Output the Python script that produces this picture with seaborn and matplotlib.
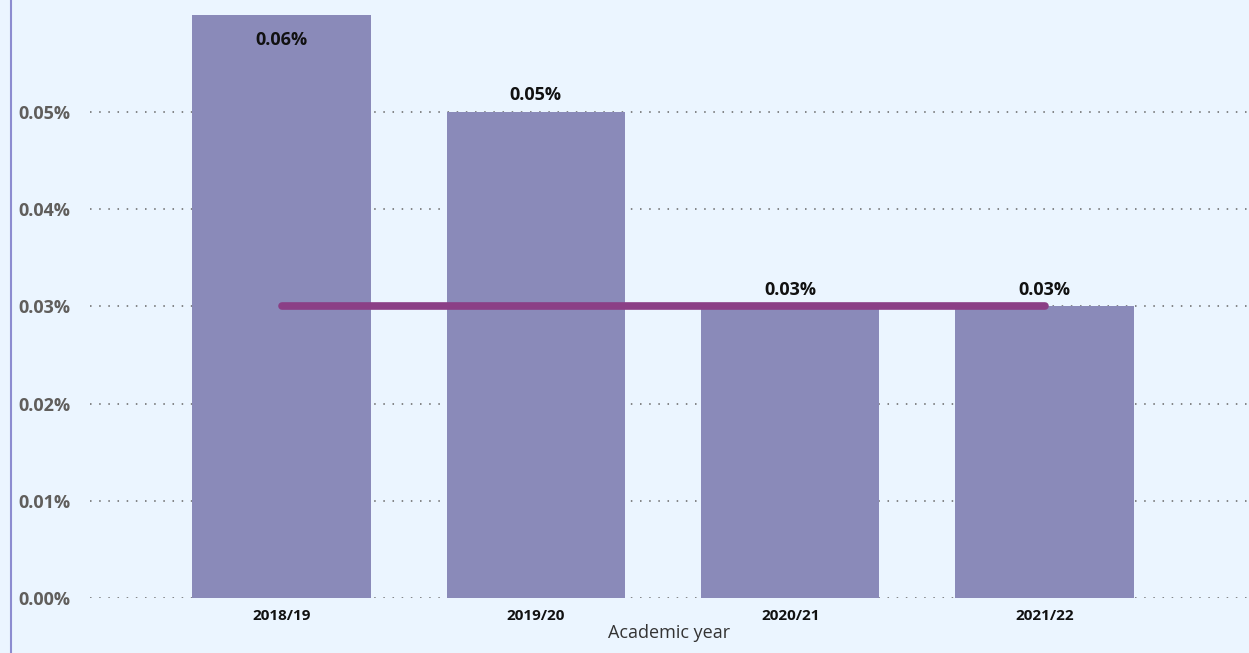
import matplotlib
matplotlib.use("Agg")
import matplotlib.pyplot as plt
import matplotlib.lines as mlines
import seaborn as sns
import pandas as pd

# Academic years and rates (percent)
years = ["2018/19", "2019/20", "2020/21", "2021/22"]
rates = [0.06, 0.05, 0.03, 0.03]
benchmark = [0.03, 0.03, 0.03, 0.03]
y_ticks = [0.00, 0.01, 0.02, 0.03, 0.04, 0.05]

bg = "#EBF5FF"
bar_color = "#8A8AB9"
line_color = "#8B3F86"

sns.set_theme(style="white")
plt.rcParams["font.family"] = ["Open Sans", "DejaVu Sans"]

df = pd.DataFrame({"year": years, "rate": rates})

fig = plt.figure(figsize=(12.49, 6.53), dpi=100, facecolor=bg)
ax = fig.add_axes([90 / 1249, 55 / 653, 1 - 90 / 1249, 598 / 653])
ax.set_facecolor(bg)

sns.barplot(data=df, x="year", y="rate", color=bar_color, width=0.7,
            saturation=1, linewidth=0, edgecolor="none", ax=ax, zorder=2)

ax.plot(range(len(years)), benchmark, color=line_color, lw=5.5,
        solid_capstyle="round", zorder=3)

ax.set_ylim(0, 0.0615)
ax.set_xlim(-0.753, 3.804)
ax.set_yticks(y_ticks)
ax.set_yticklabels([f"{v:.2f}%" for v in y_ticks], color="#605E5C",
                   fontsize=13, fontweight="bold")
ax.yaxis.grid(True, linestyle=(0, (1, 5)), color="#666666", lw=1.1, zorder=0)
ax.set_axisbelow(True)
ax.tick_params(axis="y", length=0, pad=14)
ax.tick_params(axis="x", length=0, pad=8)
for lbl in ax.get_xticklabels():
    lbl.set_fontweight("bold")
    lbl.set_fontsize(11)
    lbl.set_color("#111111")
ax.set_xlabel("Academic year", fontsize=13, color="#333333", labelpad=1)
ax.set_ylabel("")
for s in ax.spines.values():
    s.set_visible(False)

# Value labels: inside the tallest bar, above the others
top = max(rates)
for i, v in enumerate(rates):
    offset = -18 if v == top else 12
    ax.annotate(f"{v:.2f}%", (i, v), xytext=(0, offset), textcoords="offset points",
                ha="center", va="center", fontsize=13, fontweight="bold",
                color="#111111", zorder=4)

# Left frame edge
fig.add_artist(mlines.Line2D([10.5 / 1249, 10.5 / 1249], [0, 1], color="#8C8CD0",
                             lw=1.5, transform=fig.transFigure))

fig.savefig("out.png", dpi=100, facecolor=bg)
